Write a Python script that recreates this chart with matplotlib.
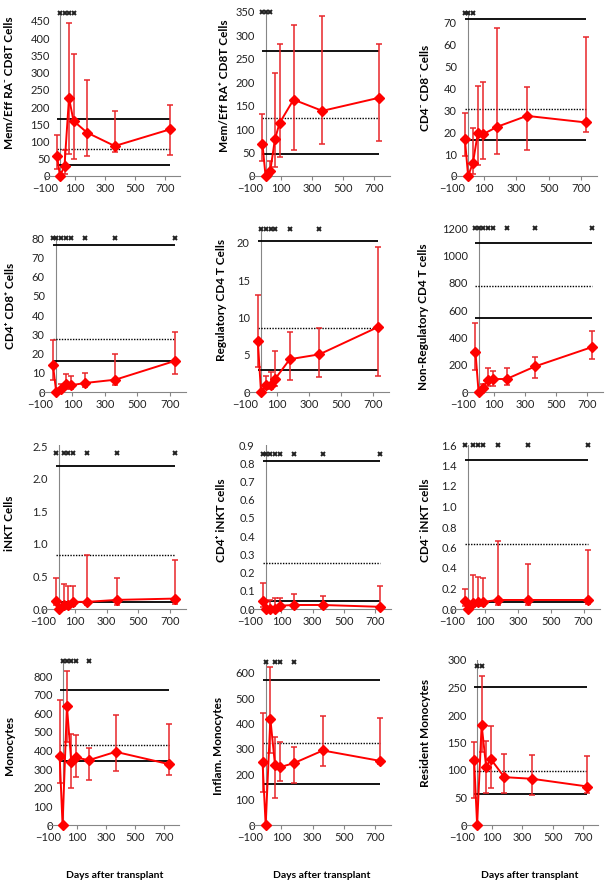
import matplotlib
matplotlib.use('Agg')
import matplotlib.pyplot as plt
from matplotlib.ticker import FormatStrFormatter
import numpy as np

plt.rcParams['font.family'] = ['Lato', 'DejaVu Sans']

# days after transplant (pre-transplant sample plotted just before 0)
days = [-20, 0, 30, 60, 90, 180, 365, 730]

# Mem/Eff RA- CD8T
mem_neg = [58, 0, 29, 227, 160, 126, 87, 135]
mem_neg_lo = [21, 0, 5, 65, 50, 58, 70, 60]
mem_neg_hi = [118, 0, 75, 444, 355, 278, 190, 205]
mem_neg_ref = [166, 77, 31]
mem_neg_x = [0, 30, 60, 90]

# Mem/Eff RA+ CD8T
mem_pos = [69, 0, 10, 78, 113, 163, 139, 167]
mem_pos_lo = [33, 0, 2, 19, 41, 55, 69, 74]
mem_pos_hi = [133, 0, 33, 220, 281, 323, 341, 282]
mem_pos_ref = [266, 124, 46]
mem_pos_x = [-20, 0, 30]

# CD4- CD8-
dn = [17, 0, 6, 19.5, 19, 22.5, 27.5, 24.5]
dn_lo = [9, 0, 1, 5, 8, 10, 12, 20]
dn_hi = [29, 0, 22, 41, 43, 67.5, 40.5, 63.5]
dn_ref = [72, 30.8, 16.6]
dn_x = [-20, 0, 30]

# CD4+ CD8+
dp = [14, 0, 1.5, 4, 3.5, 4.7, 6.4, 16.1]
dp_lo = [6, 0, 0.5, 1.7, 1.4, 2.6, 3.8, 9.5]
dp_hi = [26.8, 0, 4, 9.5, 8.3, 9.9, 20, 31.2]
dp_ref = [76.5, 27.7, 16.1]
dp_x = [-20, 0, 30, 60, 90, 180, 365, 730]

# Regulatory CD4 T
treg = [6.9, 0, 0.9, 1.0, 1.8, 4.4, 5.05, 8.7]
treg_lo = [3.4, 0, 0.35, 0.45, 0.8, 1.65, 2.0, 2.2]
treg_hi = [13, 0, 2.1, 2.7, 5.5, 8.1, 8.6, 19.4]
treg_ref = [20.3, 8.6, 2.9]
treg_x = [0, 30, 60, 90, 180, 365]

# Non-Regulatory CD4 T
nonreg = [293, 0, 29, 90, 95, 95, 188, 329]
nonreg_lo = [163, 0, 10, 41, 41, 54, 102, 244]
nonreg_hi = [505, 0, 60, 176, 156, 176, 254, 444]
nonreg_ref = [1090, 773, 541]
nonreg_x = [-20, 0, 30, 60, 90, 180, 365, 730]

# iNKT
inkt = [0.12, 0, 0.06, 0.06, 0.11, 0.11, 0.14, 0.16]
inkt_lo = [0.06, 0, 0.02, 0.02, 0.05, 0.06, 0.06, 0.08]
inkt_hi = [0.48, 0, 0.39, 0.35, 0.35, 0.83, 0.48, 0.75]
inkt_ref = [2.2, 0.83, 0.10]
inkt_x = [-20, 30, 60, 90, 180, 365, 730]

# CD4+ iNKT
cd4_inkt = [0.046, 0, 0, 0, 0.018, 0.022, 0.022, 0.012]
cd4_inkt_lo = [0.01, 0, 0, 0, 0.005, 0.005, 0.005, 0.002]
cd4_inkt_hi = [0.14, 0, 0.05, 0.06, 0.06, 0.08, 0.07, 0.125]
cd4_inkt_ref = [0.81, 0.25, 0.046]
cd4_inkt_x = [-20, 0, 30, 60, 90, 180, 365, 730]

# CD4- iNKT
cd4n_inkt = [0.078, 0, 0.055, 0.07, 0.07, 0.088, 0.088, 0.088]
cd4n_inkt_lo = [0.03, 0, 0.02, 0.03, 0.03, 0.04, 0.04, 0.05]
cd4n_inkt_hi = [0.195, 0, 0.33, 0.31, 0.30, 0.66, 0.44, 0.58]
cd4n_inkt_ref = [1.45, 0.63, 0.065]
cd4n_inkt_x = [-20, 30, 60, 90, 180, 365, 730]

# Monocytes
mono = [370, 0, 639, 336, 363, 348, 393, 327]
mono_lo = [223, 0, 446, 196, 259, 241, 291, 268]
mono_hi = [673, 0, 827, 486, 482, 414, 593, 545]
mono_ref = [727, 432, 343]
mono_x = [0, 30, 60, 90, 180]

# Inflam. Monocytes
inflam = [248, 0, 418, 235, 228, 244, 294, 253]
inflam_lo = [132, 0, 284, 106, 172, 165, 234, 241]
inflam_hi = [442, 0, 624, 346, 326, 306, 432, 422]
inflam_ref = [571, 325, 161]
inflam_x = [0, 60, 90, 180]

# Resident Monocytes
resid = [119, 0, 182, 105, 120, 87, 84, 70]
resid_lo = [50, 0, 133, 58, 68, 58, 55, 59]
resid_hi = [151, 0, 271, 152, 180, 130, 128, 125]
resid_ref = [251, 99, 56]
resid_x = [0, 30]

labels = ['Mem/Eff RA\u207b CD8T Cells', 'Mem/Eff RA\u207a CD8T Cells', 'CD4\u207b CD8\u207b Cells',
          'CD4\u207a CD8\u207a Cells', 'Regulatory CD4 T Cells', 'Non-Regulatory CD4 T cells',
          'iNKT Cells', 'CD4\u207a iNKT cells', 'CD4\u207b iNKT cells',
          'Monocytes', 'Inflam. Monocytes', 'Resident Monocytes']

panels = [
    (mem_neg, mem_neg_lo, mem_neg_hi, mem_neg_ref, mem_neg_x),
    (mem_pos, mem_pos_lo, mem_pos_hi, mem_pos_ref, mem_pos_x),
    (dn, dn_lo, dn_hi, dn_ref, dn_x),
    (dp, dp_lo, dp_hi, dp_ref, dp_x),
    (treg, treg_lo, treg_hi, treg_ref, treg_x),
    (nonreg, nonreg_lo, nonreg_hi, nonreg_ref, nonreg_x),
    (inkt, inkt_lo, inkt_hi, inkt_ref, inkt_x),
    (cd4_inkt, cd4_inkt_lo, cd4_inkt_hi, cd4_inkt_ref, cd4_inkt_x),
    (cd4n_inkt, cd4n_inkt_lo, cd4n_inkt_hi, cd4n_inkt_ref, cd4n_inkt_x),
    (mono, mono_lo, mono_hi, mono_ref, mono_x),
    (inflam, inflam_lo, inflam_hi, inflam_ref, inflam_x),
    (resid, resid_lo, resid_hi, resid_ref, resid_x),
]

# axis ranges: (ymax, step, level of the "x" marks, tick format)
yaxes = [(476, 50, 474, '%d'), (350, 50, 350, '%d'), (75, 10, 74.5, '%d'),
         (80, 10, 80, '%d'), (22, 5, 21.9, '%d'), (1200, 200, 1200, '%d'),
         (2.52, 0.5, 2.4, '%.1f'), (0.9, 0.1, 0.85, '%.1f'), (1.6, 0.2, 1.6, '%.1f'),
         (886, 100, 880, '%d'), (651, 100, 645, '%d'), (300, 50, 290, '%d')]

# layout in pixels: left (x=-100), width (900 days), top, bottom, ylabel x, ylabel y (axes frac)
W, H = 605, 890
layout = [(45, 135, 12, 176, 15, 0.57), (250, 140, 12, 176, 230, 0.55), (452, 145, 12, 176, 431, 0.54),
          (40, 146, 238, 392, 16, 0.56), (245, 144, 228, 392, 227, 0.56), (463, 140, 228, 392, 429, 0.46),
          (43, 143, 445, 609, 15, 0.52), (250, 141, 445, 609, 227, 0.54), (452, 148, 445, 609, 431, 0.54),
          (48, 131, 660, 825, 15, 0.48), (250, 141, 660, 825, 224, 0.48), (462, 136, 660, 825, 431, 0.56)]

fig = plt.figure(figsize=(W / 100, H / 100), dpi=100)

for i in range(12):
    vals, lo, hi, ref, xmarks = panels[i]
    ymax, step, xlevel, fmt = yaxes[i]
    left, width, top, bottom, lx, ly = layout[i]
    ax = fig.add_axes([left / W, 1 - bottom / H, width / W, (bottom - top) / H])

    vals = np.array(vals)
    yerr = [vals - np.array(lo), np.array(hi) - vals]

    # reference lines: upper / median / lower
    ax.hlines(ref[0], days[0], days[-1], color='black', lw=1.3, zorder=2)
    ax.hlines(ref[1], days[0], days[-1], color='black', lw=1.0, ls=(0, (1, 1)), zorder=2)
    ax.hlines(ref[2], days[0], days[-1], color='black', lw=1.3, zorder=2)

    ax.errorbar(days, vals, yerr=yerr, fmt='-D', color='#ff0000', ms=4.8, lw=1.4,
                ecolor='#e8262a', elinewidth=1.1, capsize=2.2, capthick=1.1,
                clip_on=False, zorder=3)

    ax.plot(xmarks, [xlevel] * len(xmarks), 'x', color='#222222', ms=3.5, mew=1.4,
            clip_on=False, zorder=4)

    ax.set_xlim(-100, 800)
    ax.set_ylim(0, ymax)
    ax.set_xticks([-100, 100, 300, 500, 700])
    ax.set_yticks(np.arange(0, ymax + step * 0.01, step))
    ax.yaxis.set_major_formatter(FormatStrFormatter(fmt))
    ax.axvline(0, color='#868686', lw=0.8, zorder=1)

    for s in ['top', 'right', 'left']:
        ax.spines[s].set_visible(False)
    ax.spines['bottom'].set_color('#868686')
    ax.spines['bottom'].set_linewidth(0.8)
    ax.tick_params(axis='y', length=0, pad=-3.5, labelsize=8, labelcolor='#222222')
    ax.tick_params(axis='x', length=3, color='#868686', pad=2, labelsize=8, labelcolor='#222222')

    ax.set_ylabel(labels[i], fontsize=8.5, fontweight='bold')
    ax.yaxis.set_label_coords((lx - left) / width, ly)

for cx in [115, 322, 530]:
    fig.text(cx / W, 1 - 875 / H, 'Days after transplant', fontsize=7.5,
             fontweight='bold', ha='center', va='center')

fig.savefig('out.png', dpi=100)
